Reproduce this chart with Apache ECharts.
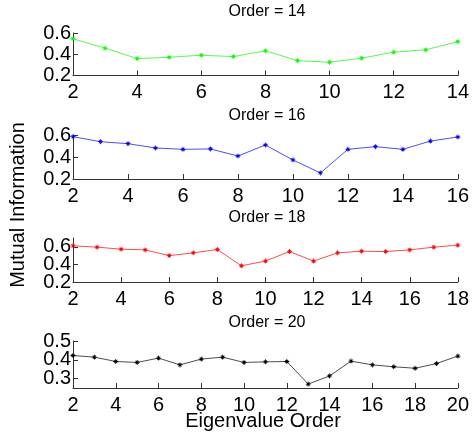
<!DOCTYPE html>
<html>
<head>
<meta charset="utf-8">
<script src="https://cdn.jsdelivr.net/npm/echarts@6/dist/echarts.min.js"></script>
<style>
  html, body { margin: 0; padding: 0; background: #fff; }
  #chart { width: 472px; height: 436px; }
</style>
</head>
<body>
<div id="chart"></div>
<script>
// eigenvalue orders for each panel
let x14 = [2, 3, 4, 5, 6, 7, 8, 9, 10, 11, 12, 13, 14];
let x16 = [2, 3, 4, 5, 6, 7, 8, 9, 10, 11, 12, 13, 14, 15, 16];
let x18 = [2, 3, 4, 5, 6, 7, 8, 9, 10, 11, 12, 13, 14, 15, 16, 17, 18];
let x20 = [2, 3, 4, 5, 6, 7, 8, 9, 10, 11, 12, 13, 14, 15, 16, 17, 18, 19, 20];

// mutual information values
let mi14 = [0.546, 0.458, 0.359, 0.372, 0.391, 0.378, 0.432, 0.340, 0.325, 0.363, 0.420, 0.442, 0.518];
let mi16 = [0.585, 0.539, 0.521, 0.482, 0.470, 0.473, 0.409, 0.509, 0.373, 0.255, 0.470, 0.494, 0.470, 0.545, 0.582];
let mi18 = [0.611, 0.596, 0.573, 0.565, 0.500, 0.531, 0.569, 0.384, 0.438, 0.546, 0.438, 0.531, 0.550, 0.546, 0.565, 0.596, 0.619];
let mi20 = [0.423, 0.414, 0.391, 0.386, 0.409, 0.373, 0.404, 0.414, 0.386, 0.389, 0.391, 0.271, 0.314, 0.393, 0.373, 0.363, 0.355, 0.380, 0.420];

// y tick labels (outer ones, then the middle one on its own axis so it isn't hidden)
let yTicks14 = [0.2, 0.4, 0.6];
let yTicks16 = [0.2, 0.4, 0.6];
let yTicks18 = [0.2, 0.4, 0.6];
let yTicks20 = [0.3, 0.4, 0.5];

let titles = ["Order = 14", "Order = 16", "Order = 18", "Order = 20"];

let chart = echarts.init(document.getElementById("chart"));

let panels = [
    { x: x14, y: mi14, ticks: yTicks14, ymin: 0.2, ymax: 0.6, xmax: 14, color: "#00ff00", top: 33, height: 42.5, titleY: 11.5 },
    { x: x16, y: mi16, ticks: yTicks16, ymin: 0.2, ymax: 0.6, xmax: 16, color: "#0000ff", top: 135, height: 44, titleY: 115.5 },
    { x: x18, y: mi18, ticks: yTicks18, ymin: 0.2, ymax: 0.7, xmax: 18, color: "#ff0000", top: 238, height: 44, titleY: 218 },
    { x: x20, y: mi20, ticks: yTicks20, ymin: 0.25, ymax: 0.5, xmax: 20, color: "#000000", top: 341, height: 47, titleY: 323 }
];

// asterisk marker like matlab '*'
let star = "path://M4.2 0L5.8 0L5.8 10L4.2 10Z M0 4.2L10 4.2L10 5.8L0 5.8Z M1.3 2.4L2.4 1.3L8.7 7.6L7.6 8.7Z M7.6 1.3L8.7 2.4L2.4 8.7L1.3 7.6Z";

let axisLine = { show: true, lineStyle: { color: "#333", width: 1 } };
let labelFont = { color: "#000", fontSize: 20, fontFamily: "Liberation Sans" };

let grids = [], xAxes = [], yAxes = [], series = [], graphics = [];

panels.forEach((p, i) => {
    grids.push({ left: 73, width: 388, top: p.top, height: p.height, containLabel: false });
    xAxes.push({
        type: "value", gridIndex: i, min: 2, max: p.xmax, interval: 2,
        axisLine: axisLine,
        axisTick: { show: true, inside: true, length: 5, lineStyle: { color: "#333" } },
        axisLabel: Object.assign({ margin: 7, showMinLabel: true, showMaxLabel: true, hideOverlap: false }, labelFont),
        splitLine: { show: false }
    });
    let outer = [p.ticks[0], p.ticks[2]];
    let middle = [p.ticks[1]];
    // main axis: line, all ticks, outer labels
    yAxes.push({
        type: "value", gridIndex: i, min: p.ymin, max: p.ymax, position: "left",
        axisLine: axisLine,
        axisTick: { show: true, inside: true, length: 5, customValues: p.ticks, lineStyle: { color: "#333" } },
        axisLabel: Object.assign({ margin: 2, customValues: outer, formatter: v => v.toFixed(1) }, labelFont),
        splitLine: { show: false }
    });
    // helper axis: only the middle label
    yAxes.push({
        type: "value", gridIndex: i, min: p.ymin, max: p.ymax, position: "left", offset: 0,
        axisLine: { show: false },
        axisTick: { show: false },
        axisLabel: Object.assign({ margin: 2, customValues: middle, formatter: v => v.toFixed(1) }, labelFont),
        splitLine: { show: false }
    });
    series.push({
        type: "line", xAxisIndex: i, yAxisIndex: i * 2,
        data: p.x.map((v, k) => [v, p.y[k]]),
        symbol: star, symbolSize: 5,
        lineStyle: { color: p.color, width: 0.7 },
        itemStyle: { color: p.color },
        animation: false
    });
    graphics.push({
        type: "text", x: 267, y: p.titleY,
        style: { text: titles[i], fill: "#000", fontSize: 16, fontFamily: "Liberation Sans", align: "center", verticalAlign: "middle" }
    });
});

graphics.push({
    type: "text", x: 263, y: 421,
    style: { text: "Eigenvalue Order", fill: "#000", fontSize: 20, fontFamily: "Liberation Sans", align: "center", verticalAlign: "middle" }
});
graphics.push({
    type: "text", x: 18, y: 205, rotation: Math.PI / 2,
    style: { text: "Mutual Information", fill: "#000", fontSize: 20, fontFamily: "Liberation Sans", align: "center", verticalAlign: "middle" }
});

chart.setOption({
    backgroundColor: "#fff",
    animation: false,
    grid: grids,
    xAxis: xAxes,
    yAxis: yAxes,
    series: series,
    graphic: graphics
});
</script>
</body>
</html>
